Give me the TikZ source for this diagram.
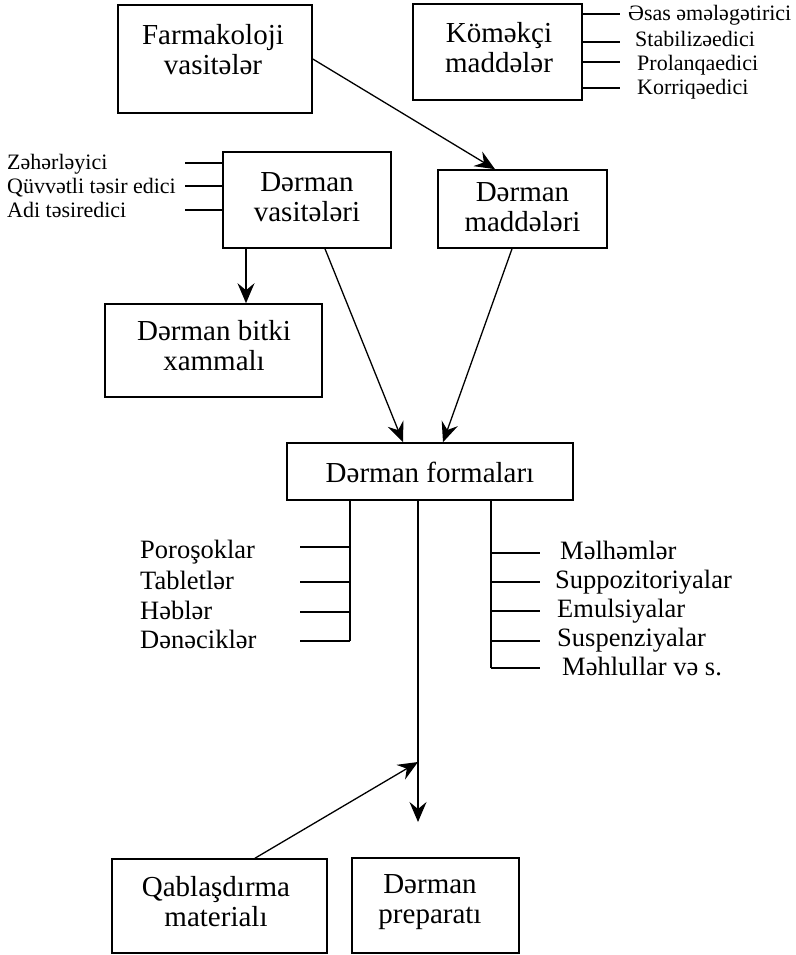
\documentclass[tikz,border=0pt]{standalone}
\usepackage{fontspec}
\setmainfont{Liberation Serif}
\usetikzlibrary{arrows.meta,calc}
\begin{document}
\begin{tikzpicture}[x=1pt,y=-1pt,
  box/.style={draw,line width=1.6pt,inner sep=0pt},
  btext/.style={font=\fontsize{29}{30}\selectfont,align=center,inner sep=0pt},
  slabel/.style={font=\fontsize{22}{24}\selectfont,inner sep=0pt,anchor=base west},
  flabel/.style={font=\fontsize{26.5}{28}\selectfont,inner sep=0pt,anchor=base west},
  conn/.style={line width=1.3pt},
  arr/.style={conn,-{Stealth[length=20pt,width=17pt,inset=7pt]}},
]
\useasboundingbox (0,0) rectangle (795,955);

% boxes
\node[box,minimum width=194pt,minimum height=108pt] (fv) at (215,59) {};
\node[btext] (fvt) at (213,50) {Farmakoloji\\vasitələr};
\node[box,minimum width=169pt,minimum height=96pt] (km) at (497.5,52) {};
\node[btext] (kmt) at (499,47.5) {Köməkçi\\maddələr};
\node[box,minimum width=168pt,minimum height=96pt] (dv) at (307,200) {};
\node[btext] (dvt) at (307,197.5) {Dərman\\vasitələri};
\node[box,minimum width=169pt,minimum height=78pt] (dm) at (522.5,209) {};
\node[btext] (dmt) at (522.5,207) {Dərman\\maddələri};
\node[box,minimum width=217pt,minimum height=93pt] (bx) at (213.5,350.5) {};
\node[btext] (bxt) at (214,346) {Dərman bitki\\xammalı};
\node[box,minimum width=286pt,minimum height=57pt] (df) at (430,471.5) {};
\node[btext] (dft) at (430,472) {Dərman formaları};
\node[box,minimum width=215pt,minimum height=94pt] (qm) at (219.5,906) {};
\node[btext] (qmt) at (216,902) {Qablaşdırma\\materialı};
\node[box,minimum width=167pt,minimum height=95pt] (dp) at (435.5,905.5) {};
\node[btext] (dpt) at (430,902.5) {Dərman\\preparatı};

% Komekci labels
\node[slabel] (k1) at (628,21) {Əsas əmələgətirici};
\node[slabel] (k2) at (635,47) {Stabilizəedici};
\node[slabel] (k3) at (637,71) {Prolanqaedici};
\node[slabel] (k4) at (637,95) {Korriqəedici};
\foreach \y/\n in {14/1,42/2,62/3,88/4}{
  \coordinate (kt\n) at (620,\y);
  \draw[conn] (km.east |- kt\n) -- (kt\n);
}

% Derman vasiteleri labels
\node[slabel] (z1) at (7,169) {Zəhərləyici};
\node[slabel] (z2) at (7,193) {Qüvvətli təsir edici};
\node[slabel] (z3) at (7,217) {Adi təsiredici};
\foreach \y/\n in {163/1,186/2,210/3}{
  \coordinate (zt\n) at (185,\y);
  \draw[conn] (zt\n) -- (dv.west |- zt\n);
}

% Derman formalari branches
\coordinate (lb) at (350,641);
\draw[conn] (df.south -| lb) -- (lb);
\foreach \y/\n in {547/1,582/2,612/3,641/4}{
  \coordinate (lt\n) at (300,\y);
  \draw[conn] (lt\n) -- (lb |- lt\n);
}
\node[flabel] (l1) at (140,558) {Poroşoklar};
\node[flabel] (l2) at (140,589) {Tabletlər};
\node[flabel] (l3) at (140,619) {Həblər};
\node[flabel] (l4) at (140,648) {Dənəciklər};

\coordinate (rb) at (491,668);
\draw[conn] (df.south -| rb) -- (rb);
\foreach \y/\n in {553/1,582/2,611/3,641/4,668/5}{
  \coordinate (rt\n) at (540,\y);
  \draw[conn] (rb |- rt\n) -- (rt\n);
}
\node[flabel] (r1) at (560,559) {Məlhəmlər};
\node[flabel] (r2) at (555,588) {Suppozitoriyalar};
\node[flabel] (r3) at (557,617) {Emulsiyalar};
\node[flabel] (r4) at (557,646) {Suspenziyalar};
\node[flabel] (r5) at (562,675) {Məhlullar və s.};

% arrows
\draw[arr] (fv.east) -- ([xshift=-27.5pt]dm.north);
\draw[arr] ([xshift=-61pt]dv.south) -- ([xshift=32.5pt]bx.north);
\draw[arr] ([xshift=18pt]dv.south) -- ([xshift=-27pt]df.north);
\draw[arr] ([xshift=-10.5pt]dm.south) -- ([xshift=13pt]df.north);
\coordinate (dpin) at (418,822);
\coordinate (jn) at (418,762);
\draw[arr] (df.south -| dpin) -- (dpin);
\draw[arr] ([xshift=35.5pt]qm.north) -- (jn);
\end{tikzpicture}
\end{document}
